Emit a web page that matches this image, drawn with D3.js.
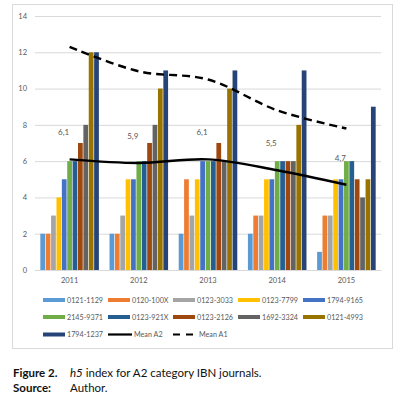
<!DOCTYPE html>
<html><head><meta charset="utf-8">
<script src="https://cdn.jsdelivr.net/npm/d3@7"></script>
<style>
html,body{margin:0;padding:0;background:#fff;}
svg{display:block;}
</style></head>
<body>
<svg id="c" width="406" height="396"></svg>
<script>
const years = ['2011','2012','2013','2014','2015'];
const journals = ['0121-1129','0120-100X','0123-3033','0123-7799','1794-9165','2145-9371','0123-921X','0123-2126','1692-3324','0121-4993','1794-1237'];
const journalColors = ['#5B9BD5','#ED7D31','#A5A5A5','#FFC000','#4472C4','#70AD47','#255E91','#9E480E','#636363','#997300','#264478'];
const v0121_1129 = [2,2,2,2,1];
const v0120_100X = [2,2,5,3,3];
const v0123_3033 = [3,3,3,3,3];
const v0123_7799 = [4,5,5,5,5];
const v1794_9165 = [5,5,6,5,5];
const v2145_9371 = [6,6,6,6,6];
const v0123_921X = [6,6,6,6,6];
const v0123_2126 = [7,7,7,6,5];
const v1692_3324 = [8,8,6,6,4];
const v0121_4993 = [12,10,10,8,5];
const v1794_1237 = [12,11,11,11,9];
const meanA2 = [6.1,5.9,6.1,5.5,4.7];
const meanA1 = [12.3,10.95,10.5,8.8,7.8];
const yTicks = [0,2,4,6,8,10,12,14];
const series = [v0121_1129,v0120_100X,v0123_3033,v0123_7799,v1794_9165,v2145_9371,v0123_921X,v0123_2126,v1692_3324,v0121_4993,v1794_1237];

const svg = d3.select('#c');
const grey = '#595959';
const font = 'Lato, Carlito, sans-serif';

// outer chart border
svg.append('rect').attr('x',12.5).attr('y',4.5).attr('width',380).attr('height',344)
  .attr('fill','#fff').attr('stroke','#D9D9D9').attr('stroke-width',1);

const x0 = d3.scaleBand().domain(years).range([35,381]).paddingInner(0).paddingOuter(0);
const inPad = 5;
const x1 = d3.scaleBand().domain(journals).range([inPad, x0.bandwidth()-inPad]).paddingInner(0.12).paddingOuter(0.06);
const y = d3.scaleLinear().domain([0,14]).range([270,16]);

// gridlines
const yAxis = d3.axisLeft(y).tickValues(yTicks).tickSize(-(381-35)).tickPadding(8);
const gy = svg.append('g').attr('transform','translate(35,0)').call(yAxis);
gy.select('.domain').remove();
gy.selectAll('.tick line').attr('stroke','#D9D9D9').attr('stroke-width',1);
gy.selectAll('.tick text').attr('fill',grey).style('font-family',font).style('font-size','7.5px');

// bars
const gBars = svg.append('g');
years.forEach((yr,i)=>{
  const g = gBars.append('g').attr('transform',`translate(${x0(yr)},0)`);
  g.selectAll('rect').data(journals).join('rect')
    .attr('x',d=>x1(d))
    .attr('width',x1.bandwidth())
    .attr('y',(d,k)=>y(series[k][i]))
    .attr('height',(d,k)=>y(0)-y(series[k][i]))
    .attr('fill',(d,k)=>journalColors[k]);
});

// x axis
const xAxis = d3.axisBottom(x0).tickSize(0).tickPadding(8);
const gx = svg.append('g').attr('transform','translate(0,270)').call(xAxis);
gx.select('.domain').attr('stroke','#D9D9D9');
gx.selectAll('.tick text').attr('fill',grey).style('font-family',font).style('font-size','7.5px');

// mean lines
const cx = d => x0(d) + x0.bandwidth()/2;
const line = d3.line().x((d,i)=>cx(years[i])).y(d=>y(d)).curve(d3.curveCatmullRom.alpha(0.5));
svg.append('path').datum(meanA1).attr('d',line).attr('fill','none')
  .attr('stroke','#000').attr('stroke-width',2.4).attr('stroke-dasharray','8,5');
svg.append('path').datum(meanA2).attr('d',line).attr('fill','none')
  .attr('stroke','#000').attr('stroke-width',2.4);

// data labels for Mean A2
svg.append('g').selectAll('text').data(meanA2).join('text')
  .attr('x',(d,i)=>cx(years[i])-6)
  .attr('y',d=>y(d)-24)
  .attr('text-anchor','middle')
  .attr('fill',grey).style('font-family',font).style('font-size','8px')
  .text(d=>d3.format('.1f')(d).replace('.',','));

// legend
const legendItems = journals.map((j,k)=>({name:j,type:'bar',color:journalColors[k]}))
  .concat([{name:'Mean A2',type:'line'},{name:'Mean A1',type:'dash'}]);
const colX = [43,108,173,238,303];
const rowY = [300,317,334.5];
const lg = svg.append('g');
legendItems.forEach((it,i)=>{
  const c = i%5, r = Math.floor(i/5);
  const lx = colX[c], ly = rowY[r];
  const g = lg.append('g').attr('transform',`translate(${lx},${ly})`);
  if(it.type==='bar'){
    g.append('rect').attr('x',0).attr('y',-2).attr('width',22).attr('height',4).attr('fill',it.color);
  } else {
    g.append('line').attr('x1',0).attr('x2',24).attr('y1',0).attr('y2',0)
      .attr('stroke','#000').attr('stroke-width',2.2)
      .attr('stroke-dasharray',it.type==='dash'?'7,6':null);
  }
  g.append('text').attr('x',it.type==='bar'?24:26).attr('y',2.6)
    .attr('fill',grey).style('font-family',font).style('font-size','7.2px').text(it.name);
});

// caption
const cap = svg.append('g').style('font-family','Lato, "Open Sans", sans-serif').style('font-size','11.5px').attr('fill','#111');
cap.append('text').attr('x',13).attr('y',377).style('font-weight','bold').text('Figure 2.');
const t1 = cap.append('text').attr('x',70).attr('y',377);
t1.append('tspan').style('font-style','italic').text('h5');
t1.append('tspan').text(' index for A2 category IBN journals.');
cap.append('text').attr('x',13).attr('y',392).style('font-weight','bold').text('Source:');
cap.append('text').attr('x',70).attr('y',392).text('Author.');
</script>
</body></html>
